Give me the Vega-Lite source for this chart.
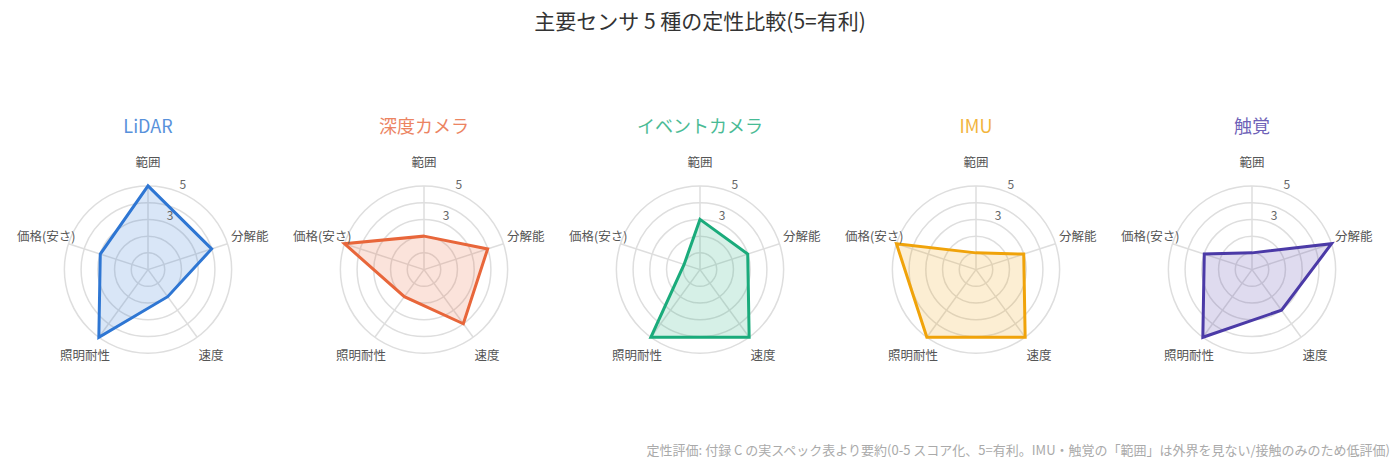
{
  "$schema": "https://vega.github.io/schema/vega-lite/v6.json",
  "padding": {"left": 10, "top": 12, "right": 5, "bottom": 5},
  "title": {
    "text": "主要センサ 5 種の定性比較(5=有利)",
    "anchor": "middle",
    "fontSize": 21,
    "fontWeight": "normal",
    "font": "Noto Sans CJK JP",
    "color": "#333",
    "offset": 86
  },
  "config": {"view": {"stroke": null}, "font": "Noto Sans CJK JP"},
  "datasets": {
    "scores": [
      {"sensor": "LiDAR", "axis": "範囲", "score": 5},
      {"sensor": "LiDAR", "axis": "分解能", "score": 4},
      {"sensor": "LiDAR", "axis": "速度", "score": 2},
      {"sensor": "LiDAR", "axis": "照明耐性", "score": 5},
      {"sensor": "LiDAR", "axis": "価格(安さ)", "score": 3},
      {"sensor": "深度カメラ", "axis": "範囲", "score": 2},
      {"sensor": "深度カメラ", "axis": "分解能", "score": 4},
      {"sensor": "深度カメラ", "axis": "速度", "score": 4},
      {"sensor": "深度カメラ", "axis": "照明耐性", "score": 2},
      {"sensor": "深度カメラ", "axis": "価格(安さ)", "score": 5},
      {"sensor": "イベントカメラ", "axis": "範囲", "score": 3},
      {"sensor": "イベントカメラ", "axis": "分解能", "score": 3},
      {"sensor": "イベントカメラ", "axis": "速度", "score": 5},
      {"sensor": "イベントカメラ", "axis": "照明耐性", "score": 5},
      {"sensor": "イベントカメラ", "axis": "価格(安さ)", "score": 1},
      {"sensor": "IMU", "axis": "範囲", "score": 1},
      {"sensor": "IMU", "axis": "分解能", "score": 3},
      {"sensor": "IMU", "axis": "速度", "score": 5},
      {"sensor": "IMU", "axis": "照明耐性", "score": 5},
      {"sensor": "IMU", "axis": "価格(安さ)", "score": 5},
      {"sensor": "触覚", "axis": "範囲", "score": 1},
      {"sensor": "触覚", "axis": "分解能", "score": 5},
      {"sensor": "触覚", "axis": "速度", "score": 3},
      {"sensor": "触覚", "axis": "照明耐性", "score": 5},
      {"sensor": "触覚", "axis": "価格(安さ)", "score": 3}
    ],
    "axes": [
      {"axis": "範囲", "idx": 0},
      {"axis": "分解能", "idx": 1},
      {"axis": "速度", "idx": 2},
      {"axis": "照明耐性", "idx": 3},
      {"axis": "価格(安さ)", "idx": 4}
    ],
    "rings": [{"r": 1}, {"r": 2}, {"r": 3}, {"r": 4}, {"r": 5}],
    "ticks": [{"tick": 3}, {"tick": 5}]
  },
  "vconcat": [
    {
      "title": {
        "text": "定性評価: 付録 C の実スペック表より要約(0-5 スコア化、5=有利。IMU・触覚の「範囲」は外界を見ない/接触のみのため低評価)",
        "orient": "bottom",
        "anchor": "end",
        "fontSize": 13,
        "fontWeight": "normal",
        "font": "Noto Sans CJK JP",
        "color": "#aaa",
        "offset": 75
      },
      "spacing": 0,
      "hconcat": [
        {
          "width": 276,
          "height": 251,
          "layer": [
            {
              "data": {"name": "rings"},
              "mark": {"type": "point", "shape": "circle", "filled": false, "stroke": "#dedede", "strokeWidth": 1.5, "opacity": 1},
              "encoding": {
                "x": {"datum": 0, "type": "quantitative", "scale": {"domain": [-8.25, 8.25], "nice": false, "zero": false}, "axis": null},
                "y": {"datum": 0, "type": "quantitative", "scale": {"domain": [-6, 9], "nice": false, "zero": false}, "axis": null},
                "size": {"field": "r", "type": "quantitative", "scale": {"type": "pow", "exponent": 2, "domain": [0, 8.25], "range": [0, 76176]}, "legend": null}
              }
            },
            {
              "data": {"name": "axes"},
              "transform": [
                {"calculate": "5 * sin(datum.idx * 2 * PI / 5)", "as": "sx"},
                {"calculate": "5 * cos(datum.idx * 2 * PI / 5)", "as": "sy"},
                {"calculate": "0", "as": "cx"},
                {"calculate": "0", "as": "cy"}
              ],
              "mark": {"type": "rule", "stroke": "#dedede", "strokeWidth": 1.5},
              "encoding": {
                "x": {"field": "cx", "type": "quantitative", "scale": {"domain": [-8.25, 8.25], "nice": false, "zero": false}, "axis": null},
                "y": {"field": "cy", "type": "quantitative", "scale": {"domain": [-6, 9], "nice": false, "zero": false}, "axis": null},
                "x2": {"field": "sx"},
                "y2": {"field": "sy"}
              }
            },
            {
              "data": {"name": "scores"},
              "transform": [
                {"filter": "datum.sensor == 'LiDAR'"},
                {"lookup": "axis", "from": {"data": {"name": "axes"}, "key": "axis", "fields": ["idx"]}},
                {"calculate": "datum.score * sin(datum.idx * 2 * PI / 5)", "as": "px"},
                {"calculate": "datum.score * cos(datum.idx * 2 * PI / 5)", "as": "py"}
              ],
              "mark": {"type": "line", "interpolate": "linear-closed", "strokeWidth": 3, "color": "#2e76d3", "fill": "#2e76d3", "fillOpacity": 0.18},
              "encoding": {
                "x": {"field": "px", "type": "quantitative", "scale": {"domain": [-8.25, 8.25], "nice": false, "zero": false}, "axis": null},
                "y": {"field": "py", "type": "quantitative", "scale": {"domain": [-6, 9], "nice": false, "zero": false}, "axis": null},
                "order": {"field": "idx", "type": "quantitative"}
              }
            },
            {
              "data": {"name": "scores"},
              "transform": [{"filter": "datum.sensor == 'LiDAR' && datum.axis == '範囲'"}],
              "mark": {"type": "text", "fontSize": 18, "color": "#2e76d3", "opacity": 0.8, "baseline": "middle"},
              "encoding": {
                "x": {"datum": 0, "type": "quantitative", "scale": {"domain": [-8.25, 8.25], "nice": false, "zero": false}, "axis": null},
                "y": {"datum": 8.45, "type": "quantitative", "scale": {"domain": [-6, 9], "nice": false, "zero": false}, "axis": null},
                "text": {"field": "sensor", "type": "nominal"}
              }
            },
            {
              "data": {"name": "axes"},
              "transform": [
                {"calculate": "6.4 * sin(datum.idx * 2 * PI / 5)", "as": "lx"},
                {"calculate": "6.4 * cos(datum.idx * 2 * PI / 5)", "as": "ly"}
              ],
              "mark": {"type": "text", "fontSize": 12.5, "color": "#555", "baseline": "middle"},
              "encoding": {
                "x": {"field": "lx", "type": "quantitative", "scale": {"domain": [-8.25, 8.25], "nice": false, "zero": false}, "axis": null},
                "y": {"field": "ly", "type": "quantitative", "scale": {"domain": [-6, 9], "nice": false, "zero": false}, "axis": null},
                "text": {"field": "axis", "type": "nominal"}
              }
            },
            {
              "data": {"name": "ticks"},
              "transform": [
                {"calculate": "(datum.tick + 0.45) * sin(PI / 8)", "as": "tx"},
                {"calculate": "(datum.tick + 0.45) * cos(PI / 8)", "as": "ty"}
              ],
              "mark": {"type": "text", "fontSize": 12, "color": "#666", "baseline": "middle"},
              "encoding": {
                "x": {"field": "tx", "type": "quantitative", "scale": {"domain": [-8.25, 8.25], "nice": false, "zero": false}, "axis": null},
                "y": {"field": "ty", "type": "quantitative", "scale": {"domain": [-6, 9], "nice": false, "zero": false}, "axis": null},
                "text": {"field": "tick", "type": "quantitative"}
              }
            }
          ]
        },
        {
          "width": 276,
          "height": 251,
          "layer": [
            {
              "data": {"name": "rings"},
              "mark": {"type": "point", "shape": "circle", "filled": false, "stroke": "#dedede", "strokeWidth": 1.5, "opacity": 1},
              "encoding": {
                "x": {"datum": 0, "type": "quantitative", "scale": {"domain": [-8.25, 8.25], "nice": false, "zero": false}, "axis": null},
                "y": {"datum": 0, "type": "quantitative", "scale": {"domain": [-6, 9], "nice": false, "zero": false}, "axis": null},
                "size": {"field": "r", "type": "quantitative", "scale": {"type": "pow", "exponent": 2, "domain": [0, 8.25], "range": [0, 76176]}, "legend": null}
              }
            },
            {
              "data": {"name": "axes"},
              "transform": [
                {"calculate": "5 * sin(datum.idx * 2 * PI / 5)", "as": "sx"},
                {"calculate": "5 * cos(datum.idx * 2 * PI / 5)", "as": "sy"},
                {"calculate": "0", "as": "cx"},
                {"calculate": "0", "as": "cy"}
              ],
              "mark": {"type": "rule", "stroke": "#dedede", "strokeWidth": 1.5},
              "encoding": {
                "x": {"field": "cx", "type": "quantitative", "scale": {"domain": [-8.25, 8.25], "nice": false, "zero": false}, "axis": null},
                "y": {"field": "cy", "type": "quantitative", "scale": {"domain": [-6, 9], "nice": false, "zero": false}, "axis": null},
                "x2": {"field": "sx"},
                "y2": {"field": "sy"}
              }
            },
            {
              "data": {"name": "scores"},
              "transform": [
                {"filter": "datum.sensor == '深度カメラ'"},
                {"lookup": "axis", "from": {"data": {"name": "axes"}, "key": "axis", "fields": ["idx"]}},
                {"calculate": "datum.score * sin(datum.idx * 2 * PI / 5)", "as": "px"},
                {"calculate": "datum.score * cos(datum.idx * 2 * PI / 5)", "as": "py"}
              ],
              "mark": {"type": "line", "interpolate": "linear-closed", "strokeWidth": 3, "color": "#e8663a", "fill": "#e8663a", "fillOpacity": 0.18},
              "encoding": {
                "x": {"field": "px", "type": "quantitative", "scale": {"domain": [-8.25, 8.25], "nice": false, "zero": false}, "axis": null},
                "y": {"field": "py", "type": "quantitative", "scale": {"domain": [-6, 9], "nice": false, "zero": false}, "axis": null},
                "order": {"field": "idx", "type": "quantitative"}
              }
            },
            {
              "data": {"name": "scores"},
              "transform": [{"filter": "datum.sensor == '深度カメラ' && datum.axis == '範囲'"}],
              "mark": {"type": "text", "fontSize": 18, "color": "#e8663a", "opacity": 0.8, "baseline": "middle"},
              "encoding": {
                "x": {"datum": 0, "type": "quantitative", "scale": {"domain": [-8.25, 8.25], "nice": false, "zero": false}, "axis": null},
                "y": {"datum": 8.45, "type": "quantitative", "scale": {"domain": [-6, 9], "nice": false, "zero": false}, "axis": null},
                "text": {"field": "sensor", "type": "nominal"}
              }
            },
            {
              "data": {"name": "axes"},
              "transform": [
                {"calculate": "6.4 * sin(datum.idx * 2 * PI / 5)", "as": "lx"},
                {"calculate": "6.4 * cos(datum.idx * 2 * PI / 5)", "as": "ly"}
              ],
              "mark": {"type": "text", "fontSize": 12.5, "color": "#555", "baseline": "middle"},
              "encoding": {
                "x": {"field": "lx", "type": "quantitative", "scale": {"domain": [-8.25, 8.25], "nice": false, "zero": false}, "axis": null},
                "y": {"field": "ly", "type": "quantitative", "scale": {"domain": [-6, 9], "nice": false, "zero": false}, "axis": null},
                "text": {"field": "axis", "type": "nominal"}
              }
            },
            {
              "data": {"name": "ticks"},
              "transform": [
                {"calculate": "(datum.tick + 0.45) * sin(PI / 8)", "as": "tx"},
                {"calculate": "(datum.tick + 0.45) * cos(PI / 8)", "as": "ty"}
              ],
              "mark": {"type": "text", "fontSize": 12, "color": "#666", "baseline": "middle"},
              "encoding": {
                "x": {"field": "tx", "type": "quantitative", "scale": {"domain": [-8.25, 8.25], "nice": false, "zero": false}, "axis": null},
                "y": {"field": "ty", "type": "quantitative", "scale": {"domain": [-6, 9], "nice": false, "zero": false}, "axis": null},
                "text": {"field": "tick", "type": "quantitative"}
              }
            }
          ]
        },
        {
          "width": 276,
          "height": 251,
          "layer": [
            {
              "data": {"name": "rings"},
              "mark": {"type": "point", "shape": "circle", "filled": false, "stroke": "#dedede", "strokeWidth": 1.5, "opacity": 1},
              "encoding": {
                "x": {"datum": 0, "type": "quantitative", "scale": {"domain": [-8.25, 8.25], "nice": false, "zero": false}, "axis": null},
                "y": {"datum": 0, "type": "quantitative", "scale": {"domain": [-6, 9], "nice": false, "zero": false}, "axis": null},
                "size": {"field": "r", "type": "quantitative", "scale": {"type": "pow", "exponent": 2, "domain": [0, 8.25], "range": [0, 76176]}, "legend": null}
              }
            },
            {
              "data": {"name": "axes"},
              "transform": [
                {"calculate": "5 * sin(datum.idx * 2 * PI / 5)", "as": "sx"},
                {"calculate": "5 * cos(datum.idx * 2 * PI / 5)", "as": "sy"},
                {"calculate": "0", "as": "cx"},
                {"calculate": "0", "as": "cy"}
              ],
              "mark": {"type": "rule", "stroke": "#dedede", "strokeWidth": 1.5},
              "encoding": {
                "x": {"field": "cx", "type": "quantitative", "scale": {"domain": [-8.25, 8.25], "nice": false, "zero": false}, "axis": null},
                "y": {"field": "cy", "type": "quantitative", "scale": {"domain": [-6, 9], "nice": false, "zero": false}, "axis": null},
                "x2": {"field": "sx"},
                "y2": {"field": "sy"}
              }
            },
            {
              "data": {"name": "scores"},
              "transform": [
                {"filter": "datum.sensor == 'イベントカメラ'"},
                {"lookup": "axis", "from": {"data": {"name": "axes"}, "key": "axis", "fields": ["idx"]}},
                {"calculate": "datum.score * sin(datum.idx * 2 * PI / 5)", "as": "px"},
                {"calculate": "datum.score * cos(datum.idx * 2 * PI / 5)", "as": "py"}
              ],
              "mark": {"type": "line", "interpolate": "linear-closed", "strokeWidth": 3, "color": "#1aab7b", "fill": "#1aab7b", "fillOpacity": 0.18},
              "encoding": {
                "x": {"field": "px", "type": "quantitative", "scale": {"domain": [-8.25, 8.25], "nice": false, "zero": false}, "axis": null},
                "y": {"field": "py", "type": "quantitative", "scale": {"domain": [-6, 9], "nice": false, "zero": false}, "axis": null},
                "order": {"field": "idx", "type": "quantitative"}
              }
            },
            {
              "data": {"name": "scores"},
              "transform": [{"filter": "datum.sensor == 'イベントカメラ' && datum.axis == '範囲'"}],
              "mark": {"type": "text", "fontSize": 18, "color": "#1aab7b", "opacity": 0.8, "baseline": "middle"},
              "encoding": {
                "x": {"datum": 0, "type": "quantitative", "scale": {"domain": [-8.25, 8.25], "nice": false, "zero": false}, "axis": null},
                "y": {"datum": 8.45, "type": "quantitative", "scale": {"domain": [-6, 9], "nice": false, "zero": false}, "axis": null},
                "text": {"field": "sensor", "type": "nominal"}
              }
            },
            {
              "data": {"name": "axes"},
              "transform": [
                {"calculate": "6.4 * sin(datum.idx * 2 * PI / 5)", "as": "lx"},
                {"calculate": "6.4 * cos(datum.idx * 2 * PI / 5)", "as": "ly"}
              ],
              "mark": {"type": "text", "fontSize": 12.5, "color": "#555", "baseline": "middle"},
              "encoding": {
                "x": {"field": "lx", "type": "quantitative", "scale": {"domain": [-8.25, 8.25], "nice": false, "zero": false}, "axis": null},
                "y": {"field": "ly", "type": "quantitative", "scale": {"domain": [-6, 9], "nice": false, "zero": false}, "axis": null},
                "text": {"field": "axis", "type": "nominal"}
              }
            },
            {
              "data": {"name": "ticks"},
              "transform": [
                {"calculate": "(datum.tick + 0.45) * sin(PI / 8)", "as": "tx"},
                {"calculate": "(datum.tick + 0.45) * cos(PI / 8)", "as": "ty"}
              ],
              "mark": {"type": "text", "fontSize": 12, "color": "#666", "baseline": "middle"},
              "encoding": {
                "x": {"field": "tx", "type": "quantitative", "scale": {"domain": [-8.25, 8.25], "nice": false, "zero": false}, "axis": null},
                "y": {"field": "ty", "type": "quantitative", "scale": {"domain": [-6, 9], "nice": false, "zero": false}, "axis": null},
                "text": {"field": "tick", "type": "quantitative"}
              }
            }
          ]
        },
        {
          "width": 276,
          "height": 251,
          "layer": [
            {
              "data": {"name": "rings"},
              "mark": {"type": "point", "shape": "circle", "filled": false, "stroke": "#dedede", "strokeWidth": 1.5, "opacity": 1},
              "encoding": {
                "x": {"datum": 0, "type": "quantitative", "scale": {"domain": [-8.25, 8.25], "nice": false, "zero": false}, "axis": null},
                "y": {"datum": 0, "type": "quantitative", "scale": {"domain": [-6, 9], "nice": false, "zero": false}, "axis": null},
                "size": {"field": "r", "type": "quantitative", "scale": {"type": "pow", "exponent": 2, "domain": [0, 8.25], "range": [0, 76176]}, "legend": null}
              }
            },
            {
              "data": {"name": "axes"},
              "transform": [
                {"calculate": "5 * sin(datum.idx * 2 * PI / 5)", "as": "sx"},
                {"calculate": "5 * cos(datum.idx * 2 * PI / 5)", "as": "sy"},
                {"calculate": "0", "as": "cx"},
                {"calculate": "0", "as": "cy"}
              ],
              "mark": {"type": "rule", "stroke": "#dedede", "strokeWidth": 1.5},
              "encoding": {
                "x": {"field": "cx", "type": "quantitative", "scale": {"domain": [-8.25, 8.25], "nice": false, "zero": false}, "axis": null},
                "y": {"field": "cy", "type": "quantitative", "scale": {"domain": [-6, 9], "nice": false, "zero": false}, "axis": null},
                "x2": {"field": "sx"},
                "y2": {"field": "sy"}
              }
            },
            {
              "data": {"name": "scores"},
              "transform": [
                {"filter": "datum.sensor == 'IMU'"},
                {"lookup": "axis", "from": {"data": {"name": "axes"}, "key": "axis", "fields": ["idx"]}},
                {"calculate": "datum.score * sin(datum.idx * 2 * PI / 5)", "as": "px"},
                {"calculate": "datum.score * cos(datum.idx * 2 * PI / 5)", "as": "py"}
              ],
              "mark": {"type": "line", "interpolate": "linear-closed", "strokeWidth": 3, "color": "#f0a30a", "fill": "#f0a30a", "fillOpacity": 0.18},
              "encoding": {
                "x": {"field": "px", "type": "quantitative", "scale": {"domain": [-8.25, 8.25], "nice": false, "zero": false}, "axis": null},
                "y": {"field": "py", "type": "quantitative", "scale": {"domain": [-6, 9], "nice": false, "zero": false}, "axis": null},
                "order": {"field": "idx", "type": "quantitative"}
              }
            },
            {
              "data": {"name": "scores"},
              "transform": [{"filter": "datum.sensor == 'IMU' && datum.axis == '範囲'"}],
              "mark": {"type": "text", "fontSize": 18, "color": "#f0a30a", "opacity": 0.8, "baseline": "middle"},
              "encoding": {
                "x": {"datum": 0, "type": "quantitative", "scale": {"domain": [-8.25, 8.25], "nice": false, "zero": false}, "axis": null},
                "y": {"datum": 8.45, "type": "quantitative", "scale": {"domain": [-6, 9], "nice": false, "zero": false}, "axis": null},
                "text": {"field": "sensor", "type": "nominal"}
              }
            },
            {
              "data": {"name": "axes"},
              "transform": [
                {"calculate": "6.4 * sin(datum.idx * 2 * PI / 5)", "as": "lx"},
                {"calculate": "6.4 * cos(datum.idx * 2 * PI / 5)", "as": "ly"}
              ],
              "mark": {"type": "text", "fontSize": 12.5, "color": "#555", "baseline": "middle"},
              "encoding": {
                "x": {"field": "lx", "type": "quantitative", "scale": {"domain": [-8.25, 8.25], "nice": false, "zero": false}, "axis": null},
                "y": {"field": "ly", "type": "quantitative", "scale": {"domain": [-6, 9], "nice": false, "zero": false}, "axis": null},
                "text": {"field": "axis", "type": "nominal"}
              }
            },
            {
              "data": {"name": "ticks"},
              "transform": [
                {"calculate": "(datum.tick + 0.45) * sin(PI / 8)", "as": "tx"},
                {"calculate": "(datum.tick + 0.45) * cos(PI / 8)", "as": "ty"}
              ],
              "mark": {"type": "text", "fontSize": 12, "color": "#666", "baseline": "middle"},
              "encoding": {
                "x": {"field": "tx", "type": "quantitative", "scale": {"domain": [-8.25, 8.25], "nice": false, "zero": false}, "axis": null},
                "y": {"field": "ty", "type": "quantitative", "scale": {"domain": [-6, 9], "nice": false, "zero": false}, "axis": null},
                "text": {"field": "tick", "type": "quantitative"}
              }
            }
          ]
        },
        {
          "width": 276,
          "height": 251,
          "layer": [
            {
              "data": {"name": "rings"},
              "mark": {"type": "point", "shape": "circle", "filled": false, "stroke": "#dedede", "strokeWidth": 1.5, "opacity": 1},
              "encoding": {
                "x": {"datum": 0, "type": "quantitative", "scale": {"domain": [-8.25, 8.25], "nice": false, "zero": false}, "axis": null},
                "y": {"datum": 0, "type": "quantitative", "scale": {"domain": [-6, 9], "nice": false, "zero": false}, "axis": null},
                "size": {"field": "r", "type": "quantitative", "scale": {"type": "pow", "exponent": 2, "domain": [0, 8.25], "range": [0, 76176]}, "legend": null}
              }
            },
            {
              "data": {"name": "axes"},
              "transform": [
                {"calculate": "5 * sin(datum.idx * 2 * PI / 5)", "as": "sx"},
                {"calculate": "5 * cos(datum.idx * 2 * PI / 5)", "as": "sy"},
                {"calculate": "0", "as": "cx"},
                {"calculate": "0", "as": "cy"}
              ],
              "mark": {"type": "rule", "stroke": "#dedede", "strokeWidth": 1.5},
              "encoding": {
                "x": {"field": "cx", "type": "quantitative", "scale": {"domain": [-8.25, 8.25], "nice": false, "zero": false}, "axis": null},
                "y": {"field": "cy", "type": "quantitative", "scale": {"domain": [-6, 9], "nice": false, "zero": false}, "axis": null},
                "x2": {"field": "sx"},
                "y2": {"field": "sy"}
              }
            },
            {
              "data": {"name": "scores"},
              "transform": [
                {"filter": "datum.sensor == '触覚'"},
                {"lookup": "axis", "from": {"data": {"name": "axes"}, "key": "axis", "fields": ["idx"]}},
                {"calculate": "datum.score * sin(datum.idx * 2 * PI / 5)", "as": "px"},
                {"calculate": "datum.score * cos(datum.idx * 2 * PI / 5)", "as": "py"}
              ],
              "mark": {"type": "line", "interpolate": "linear-closed", "strokeWidth": 3, "color": "#4b3aa7", "fill": "#4b3aa7", "fillOpacity": 0.18},
              "encoding": {
                "x": {"field": "px", "type": "quantitative", "scale": {"domain": [-8.25, 8.25], "nice": false, "zero": false}, "axis": null},
                "y": {"field": "py", "type": "quantitative", "scale": {"domain": [-6, 9], "nice": false, "zero": false}, "axis": null},
                "order": {"field": "idx", "type": "quantitative"}
              }
            },
            {
              "data": {"name": "scores"},
              "transform": [{"filter": "datum.sensor == '触覚' && datum.axis == '範囲'"}],
              "mark": {"type": "text", "fontSize": 18, "color": "#4b3aa7", "opacity": 0.8, "baseline": "middle"},
              "encoding": {
                "x": {"datum": 0, "type": "quantitative", "scale": {"domain": [-8.25, 8.25], "nice": false, "zero": false}, "axis": null},
                "y": {"datum": 8.45, "type": "quantitative", "scale": {"domain": [-6, 9], "nice": false, "zero": false}, "axis": null},
                "text": {"field": "sensor", "type": "nominal"}
              }
            },
            {
              "data": {"name": "axes"},
              "transform": [
                {"calculate": "6.4 * sin(datum.idx * 2 * PI / 5)", "as": "lx"},
                {"calculate": "6.4 * cos(datum.idx * 2 * PI / 5)", "as": "ly"}
              ],
              "mark": {"type": "text", "fontSize": 12.5, "color": "#555", "baseline": "middle"},
              "encoding": {
                "x": {"field": "lx", "type": "quantitative", "scale": {"domain": [-8.25, 8.25], "nice": false, "zero": false}, "axis": null},
                "y": {"field": "ly", "type": "quantitative", "scale": {"domain": [-6, 9], "nice": false, "zero": false}, "axis": null},
                "text": {"field": "axis", "type": "nominal"}
              }
            },
            {
              "data": {"name": "ticks"},
              "transform": [
                {"calculate": "(datum.tick + 0.45) * sin(PI / 8)", "as": "tx"},
                {"calculate": "(datum.tick + 0.45) * cos(PI / 8)", "as": "ty"}
              ],
              "mark": {"type": "text", "fontSize": 12, "color": "#666", "baseline": "middle"},
              "encoding": {
                "x": {"field": "tx", "type": "quantitative", "scale": {"domain": [-8.25, 8.25], "nice": false, "zero": false}, "axis": null},
                "y": {"field": "ty", "type": "quantitative", "scale": {"domain": [-6, 9], "nice": false, "zero": false}, "axis": null},
                "text": {"field": "tick", "type": "quantitative"}
              }
            }
          ]
        }
      ]
    }
  ]
}
